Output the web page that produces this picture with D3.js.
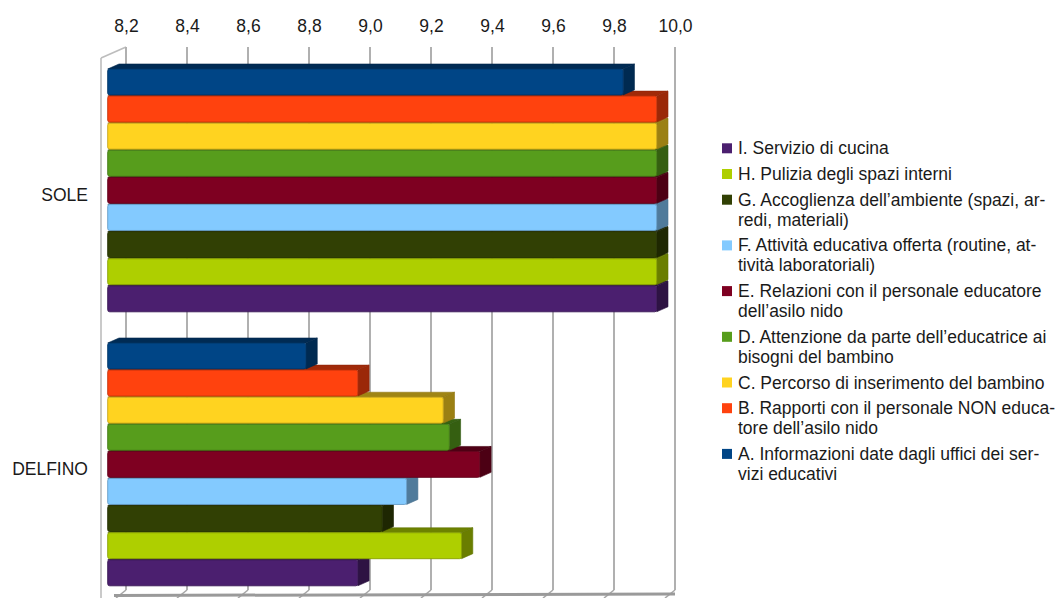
<!DOCTYPE html>
<html>
<head>
<meta charset="utf-8">
<script src="https://cdn.jsdelivr.net/npm/d3@7"></script>
<style>
  html, body { margin: 0; padding: 0; background: #fff; }
  svg { display: block; font-family: "Liberation Sans", Arial, sans-serif; }
</style>
</head>
<body>
<svg id="chart" width="1056" height="598"></svg>
<script>
// ---- data -------------------------------------------------------------
const categories = ["SOLE", "DELFINO"];
const seriesKeys = ["A", "B", "C", "D", "E", "F", "G", "H", "I"];
const seriesLabels = [
  ["A. Informazioni date dagli uffici dei ser-", "vizi educativi"],
  ["B. Rapporti con il personale NON educa-", "tore dell’asilo nido"],
  ["C. Percorso di inserimento del bambino"],
  ["D. Attenzione da parte dell’educatrice ai", "bisogni del bambino"],
  ["E. Relazioni con il personale educatore", "dell’asilo nido"],
  ["F. Attività educativa offerta (routine, at-", "tività laboratoriali)"],
  ["G. Accoglienza dell’ambiente (spazi, ar-", "redi, materiali)"],
  ["H. Pulizia degli spazi interni"],
  ["I. Servizio di cucina"]
];
const seriesColors = ["#004586", "#ff420e", "#ffd320", "#579d1c", "#7e0021",
                      "#83caff", "#314004", "#aecf00", "#4b1f6f"];
const soleValues    = [9.89, 10.0, 10.0, 10.0, 10.0, 10.0, 10.0, 10.0, 10.0];
const delfinoValues = [8.85, 9.02, 9.30, 9.32, 9.42, 9.18, 9.10, 9.36, 9.02];
const tickValues = [8.2, 8.4, 8.6, 8.8, 9.0, 9.2, 9.4, 9.6, 9.8, 10.0];

const valuesByCategory = { SOLE: soleValues, DELFINO: delfinoValues };

// ---- geometry ---------------------------------------------------------
const svg = d3.select("#chart");
const FONT = 17.5;

// back wall scale (grid) and the plane of the bars' front faces
const xBack = d3.scaleLinear().domain([8.2, 10.0]).range([126, 675]);
const xFront = xBack.copy().range([107.7, 656.7]);
const depth = { dx: 11.3, dy: 5 };   // bar depth in screen space

const yCat = d3.scalePoint().domain(categories).range([191, 465]);
const ySeries = d3.scaleBand().domain(seriesKeys).range([-122, 122]);

const gridTop = 47, gridBottom = 590;
const itComma = d3.formatLocale({ decimal: ",", thousands: ".", grouping: [3], currency: ["€", ""] });
const fmt = itComma.format(".1f");

// ---- walls and grid ---------------------------------------------------
const walls = svg.append("g");
// left side wall (value axis base)
walls.append("line").attr("x1", 101).attr("y1", 58).attr("x2", 101).attr("y2", 598)
  .attr("stroke", "#bdbdbd").attr("stroke-width", 1.6);
walls.append("line").attr("x1", 101).attr("y1", 58).attr("x2", xBack(8.2)).attr("y2", gridTop)
  .attr("stroke", "#bdbdbd").attr("stroke-width", 1.6);

// vertical grid lines on the back wall
walls.selectAll("line.grid").data(tickValues).join("line")
  .attr("class", "grid")
  .attr("x1", d => xBack(d)).attr("x2", d => xBack(d))
  .attr("y1", gridTop).attr("y2", gridBottom)
  .attr("stroke", "#b0b0b0").attr("stroke-width", 2);

// floor edge with the grid running forward
walls.selectAll("line.floorGrid").data(tickValues).join("line")
  .attr("class", "floorGrid")
  .attr("x1", d => xBack(d)).attr("y1", gridBottom)
  .attr("x2", d => xBack(d) - 10).attr("y2", gridBottom + 8)
  .attr("stroke", "#a8a8a8").attr("stroke-width", 1.6);
walls.append("line")
  .attr("x1", xBack(8.2) - 12).attr("y1", 595.5)
  .attr("x2", xBack(10.0)).attr("y2", 594)
  .attr("stroke", "#9a9a9a").attr("stroke-width", 3);

// ---- value axis (top) -------------------------------------------------
const axis = svg.append("g")
  .attr("transform", "translate(0,32)")
  .call(d3.axisTop(xBack).tickValues(tickValues).tickSize(0).tickPadding(0).tickFormat(fmt));
axis.select(".domain").remove();
axis.selectAll("text")
  .attr("font-size", FONT)
  .attr("font-family", "Liberation Sans, Arial, sans-serif")
  .attr("fill", "#1a1a1a");

// ---- bars -------------------------------------------------------------
const shade = (c, k) => d3.color(c).darker(k).formatHex();

categories.forEach(cat => {
  const vals = valuesByCategory[cat];
  const g = svg.append("g").attr("class", "cat");
  // bottom bar first so each bar above covers the top face below it
  const order = d3.range(seriesKeys.length).reverse();
  order.forEach(i => {
    const key = seriesKeys[i];
    const col = seriesColors[i];
    const y0 = yCat(cat) + ySeries(key);
    const h = ySeries.bandwidth() - 1.2;
    const x0 = xFront(8.2);
    const x1 = xFront(vals[i]);
    const { dx, dy } = depth;

    g.append("path")
      .attr("d", `M${x0},${y0} L${x0 + dx},${y0 - dy} L${x1 + dx},${y0 - dy} L${x1},${y0} Z`)
      .attr("fill", shade(col, 1.3))
      .attr("stroke", shade(col, 1.6)).attr("stroke-width", 0.6);
    g.append("path")
      .attr("d", `M${x1},${y0} L${x1 + dx},${y0 - dy} L${x1 + dx},${y0 + h - dy} L${x1},${y0 + h} Z`)
      .attr("fill", shade(col, 1.4))
      .attr("stroke", shade(col, 1.6)).attr("stroke-width", 0.6);
    g.append("rect")
      .attr("x", x0).attr("y", y0)
      .attr("width", x1 - x0).attr("height", h)
      .attr("rx", 2)
      .attr("fill", col)
      .attr("stroke", shade(col, 0.7)).attr("stroke-width", 0.9);
  });
});

// ---- category labels --------------------------------------------------
svg.append("g").selectAll("text").data(categories).join("text")
  .attr("x", 88).attr("y", d => yCat(d) + 10)
  .attr("text-anchor", "end")
  .attr("font-size", FONT)
  .attr("fill", "#1a1a1a")
  .text(d => d);

// ---- legend -----------------------------------------------------------
const legend = svg.append("g");
const lineH = 20, entryGap = 25.7;
let yLine = 148.3;
d3.range(seriesKeys.length).reverse().forEach(i => {
  const lines = seriesLabels[i];
  legend.append("rect")
    .attr("x", 722).attr("y", yLine - 5).attr("width", 10).attr("height", 10)
    .attr("fill", seriesColors[i]);
  const t = legend.append("text")
    .attr("x", 738).attr("y", yLine + 6)
    .attr("font-size", FONT).attr("fill", "#1a1a1a");
  lines.forEach((ln, j) => {
    t.append("tspan").attr("x", 738).attr("dy", j === 0 ? 0 : lineH).text(ln);
  });
  yLine += (lines.length - 1) * lineH + entryGap;
});
</script>
</body>
</html>
